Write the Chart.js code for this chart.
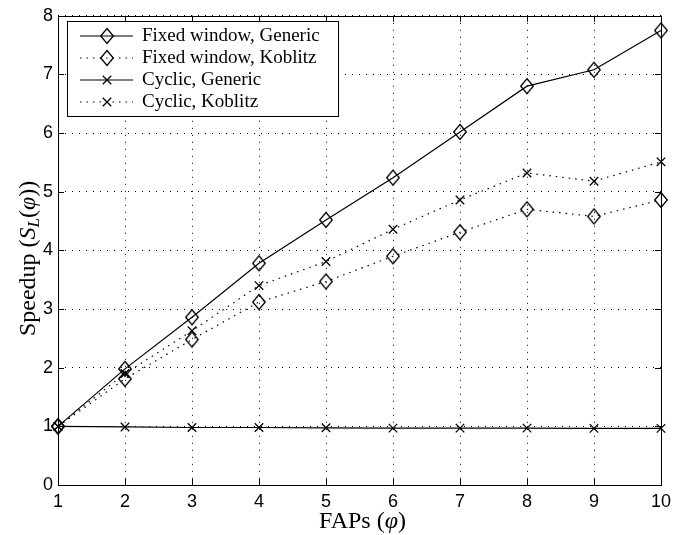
<!DOCTYPE html>
<html>
<head>
<meta charset="utf-8">
<script src="https://cdn.jsdelivr.net/npm/chart.js@4/dist/chart.umd.min.js"></script>
<style>
  html, body { margin: 0; padding: 0; background: #fff; }
</style>
</head>
<body>
<canvas id="myChart" width="694" height="535"></canvas>
<script>
// FAPs (phi) on the x axis
var faps = [1, 2, 3, 4, 5, 6, 7, 8, 9, 10];

// Speedup values
var fixedGeneric  = [1.00, 1.98, 2.86, 3.78, 4.52, 5.24, 6.02, 6.80, 7.08, 7.75];
var fixedKoblitz  = [1.00, 1.81, 2.48, 3.12, 3.47, 3.90, 4.31, 4.70, 4.58, 4.86];
var cyclicGeneric = [1.00, 0.99, 0.98, 0.98, 0.975, 0.97, 0.97, 0.97, 0.965, 0.965];
var cyclicKoblitz = [1.00, 1.90, 2.63, 3.40, 3.81, 4.36, 4.86, 5.32, 5.18, 5.51];

var xTicks = [1, 2, 3, 4, 5, 6, 7, 8, 9, 10];
var yTicks = [0, 1, 2, 3, 4, 5, 6, 7, 8];

var serif = '"Liberation Serif", "Times New Roman", serif';
var sans = '"Liberation Sans", Arial, sans-serif';

// hollow diamond, a bit taller than wide like matlab's
function makeDiamond() {
    var c = document.createElement('canvas');
    c.width = 16;
    c.height = 20;
    var g = c.getContext('2d');
    g.strokeStyle = '#000';
    g.lineWidth = 1.3;
    g.beginPath();
    g.moveTo(8, 2.5);
    g.lineTo(14.3, 10);
    g.lineTo(8, 17.5);
    g.lineTo(1.7, 10);
    g.closePath();
    g.stroke();
    return c;
}
var diamond = makeDiamond();

function pts(vals) {
    return faps.map(function (f, i) { return { x: f, y: vals[i] }; });
}

function series(label, vals, marker, dotted) {
    return {
        label: label,
        data: pts(vals),
        borderColor: '#000',
        backgroundColor: 'transparent',
        borderWidth: 1.2,
        borderDash: dotted ? [1.5, 5] : [],
        pointStyle: marker === 'diamond' ? diamond : 'crossRot',
        pointRadius: marker === 'diamond' ? 7 : 6,
        pointBorderWidth: 1.3,
        pointBorderColor: '#000',
        pointBackgroundColor: 'transparent',
        fill: false,
        tension: 0,
        clip: false
    };
}

// frame box and inward ticks, matlab style
var framePlugin = {
    id: 'frame',
    beforeDatasetsDraw: function (chart) {
        var a = chart.chartArea, ctx = chart.ctx;
        var xs = chart.scales.x, ys = chart.scales.y;
        ctx.save();
        ctx.strokeStyle = '#000';
        ctx.lineWidth = 1;
        ctx.beginPath();
        xTicks.forEach(function (t) {
            var px = Math.round(xs.getPixelForValue(t)) + 0.5;
            ctx.moveTo(px, a.bottom);
            ctx.lineTo(px, a.bottom - 6);
            ctx.moveTo(px, a.top);
            ctx.lineTo(px, a.top + 6);
        });
        yTicks.forEach(function (t) {
            var py = Math.round(ys.getPixelForValue(t)) + 0.5;
            ctx.moveTo(a.left, py);
            ctx.lineTo(a.left + 6, py);
            ctx.moveTo(a.right, py);
            ctx.lineTo(a.right - 6, py);
        });
        ctx.stroke();
        ctx.strokeRect(Math.round(a.left) + 0.5, Math.round(a.top) + 0.5,
            Math.round(a.right - a.left), Math.round(a.bottom - a.top));
        ctx.restore();
    },
    afterDraw: function (chart) {
        var ctx = chart.ctx, a = chart.chartArea;
        ctx.save();

        // legend box
        var bx = 67, by = 21, bw = 271, bh = 95;
        ctx.fillStyle = '#fff';
        ctx.fillRect(bx, by, bw, bh);
        ctx.strokeStyle = '#000';
        ctx.lineWidth = 1;
        ctx.strokeRect(bx + 0.5, by + 0.5, bw, bh);
        chart.data.datasets.forEach(function (ds, i) {
            var y = 35.5 + i * 22;
            ctx.save();
            ctx.strokeStyle = '#000';
            ctx.lineWidth = ds.borderWidth;
            ctx.setLineDash(ds.borderDash);
            ctx.beginPath();
            ctx.moveTo(80, y + 0.5);
            ctx.lineTo(133, y + 0.5);
            ctx.stroke();
            ctx.restore();
            ctx.strokeStyle = '#000';
            ctx.lineWidth = ds.pointBorderWidth;
            Chart.helpers.drawPoint(ctx, {
                pointStyle: ds.pointStyle, radius: ds.pointRadius,
                rotation: 0, borderWidth: ds.pointBorderWidth
            }, 107, y + 0.5);
            ctx.fillStyle = '#000';
            ctx.font = '19px ' + serif;
            ctx.textBaseline = 'middle';
            ctx.textAlign = 'left';
            ctx.fillText(ds.label, 142, y + 1);
        });

        // x title: FAPs (phi)
        ctx.fillStyle = '#000';
        ctx.textBaseline = 'alphabetic';
        drawPieces(ctx, [
            ['FAPs (', '24px ' + serif, 0],
            ['\u03C6', 'italic 24px ' + serif, 0],
            [')', '24px ' + serif, 0]
        ], (a.left + a.right) / 2 + 3, 528);

        // y title: Speedup (S_L(phi)), rotated
        ctx.translate(35, (a.top + a.bottom) / 2 + 8);
        ctx.rotate(-Math.PI / 2);
        drawPieces(ctx, [
            ['Speedup (', '24px ' + serif, 0],
            ['S', 'italic 24px ' + serif, 0],
            ['L', 'italic 17px ' + serif, 4],
            ['(', '24px ' + serif, 0],
            ['\u03C6', 'italic 24px ' + serif, 0],
            ['))', '24px ' + serif, 0]
        ], 0, 0);
        ctx.restore();
    }
};

function drawPieces(ctx, pieces, cx, y) {
    var total = 0;
    pieces.forEach(function (p) { ctx.font = p[1]; total += ctx.measureText(p[0]).width; });
    var x = cx - total / 2;
    ctx.textAlign = 'left';
    pieces.forEach(function (p) {
        ctx.font = p[1];
        ctx.fillText(p[0], x, y + p[2]);
        x += ctx.measureText(p[0]).width;
    });
}

var ctx = document.getElementById('myChart').getContext('2d');
var myChart = new Chart(ctx, {
    type: 'line',
    data: {
        datasets: [
            series('Fixed window, Generic', fixedGeneric, 'diamond', false),
            series('Fixed window, Koblitz', fixedKoblitz, 'diamond', true),
            series('Cyclic, Generic', cyclicGeneric, 'cross', false),
            series('Cyclic, Koblitz', cyclicKoblitz, 'cross', true)
        ]
    },
    options: {
        responsive: false,
        animation: false,
        layout: { padding: { top: 9, right: 33, left: 0, bottom: 0 } },
        plugins: {
            legend: { display: false },
            tooltip: { enabled: false }
        },
        scales: {
            x: {
                type: 'linear',
                min: 1,
                max: 10,
                afterFit: function (s) { s.height = 50; },
                afterBuildTicks: function (s) { s.ticks = xTicks.map(function (v) { return { value: v }; }); },
                grid: { color: '#000', lineWidth: 1, drawTicks: false },
                border: { display: false, dash: [1, 6] },
                ticks: { color: '#000', font: { family: sans, size: 18 }, padding: 6, maxRotation: 0 }
            },
            y: {
                min: 0,
                max: 8,
                afterFit: function (s) { s.width = 58; },
                afterBuildTicks: function (s) { s.ticks = yTicks.map(function (v) { return { value: v }; }); },
                grid: { color: '#000', lineWidth: 1, drawTicks: false },
                border: { display: false, dash: [1, 6] },
                ticks: { color: '#000', font: { family: sans, size: 18 }, padding: 5 }
            }
        }
    },
    plugins: [framePlugin]
});
</script>
</body>
</html>
